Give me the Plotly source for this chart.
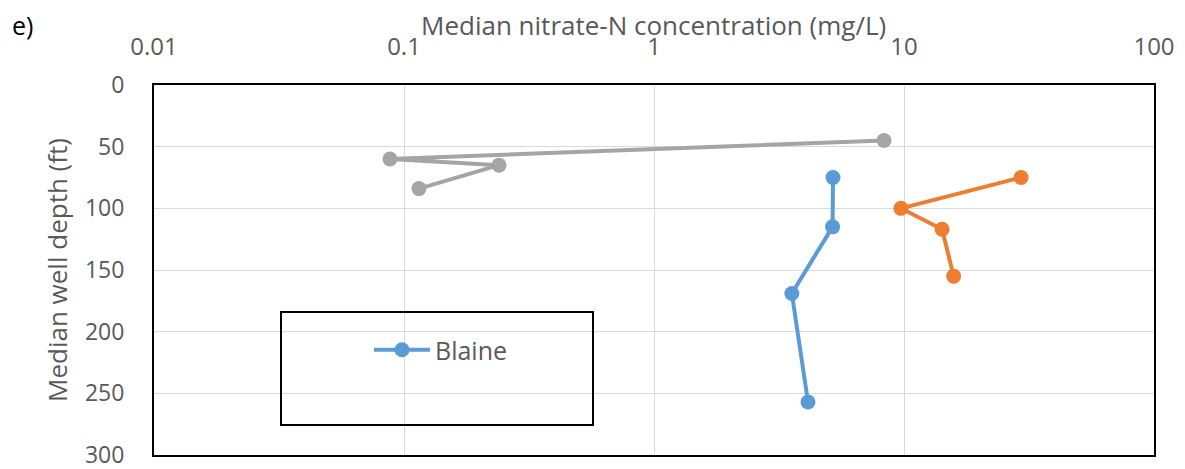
import plotly.graph_objects as go

# Data
blaine_nitrate = [5.2, 5.18, 3.56, 4.13]
blaine_depth = [75, 115, 169, 257]

orange_nitrate = [29.4, 9.72, 14.2, 15.8]
orange_depth = [75, 100, 117, 155]

gray_nitrate = [8.32, 0.0879, 0.24, 0.1148]
gray_depth = [45, 60, 65, 84]

x_tickvals = [0.01, 0.1, 1, 10, 100]
x_ticktext = ["0.01", "0.1", "1", "10", "100"]
y_tickvals = [0, 50, 100, 150, 200, 250, 300]

BLUE = "#5B9BD5"
ORANGE = "#ED7D31"
GRAY = "#A5A5A5"
TXT = "#595959"
FONT = "Open Sans"

fig = go.Figure()
fig.add_trace(go.Scatter(x=gray_nitrate, y=gray_depth, mode="lines+markers",
                         name="Series 3", showlegend=False,
                         line=dict(color=GRAY, width=4),
                         marker=dict(color=GRAY, size=15)))
fig.add_trace(go.Scatter(x=orange_nitrate, y=orange_depth, mode="lines+markers",
                         name="Series 2", showlegend=False,
                         line=dict(color=ORANGE, width=4),
                         marker=dict(color=ORANGE, size=15)))
fig.add_trace(go.Scatter(x=blaine_nitrate, y=blaine_depth, mode="lines+markers",
                         name="Blaine",
                         line=dict(color=BLUE, width=4),
                         marker=dict(color=BLUE, size=15)))

W, H = 1185, 469
L, R, T, B = 154, 31, 85, 14
pw, ph = W - L - R, H - T - B

def px(x):
    return (x - L) / pw

def py(y):
    return (H - B - y) / ph

fig.update_layout(
    width=W, height=H,
    margin=dict(l=L, r=R, t=T, b=B, autoexpand=False),
    paper_bgcolor="white", plot_bgcolor="white",
    font=dict(family=FONT, color=TXT, size=24),
    xaxis=dict(type="log", range=[-2, 2], side="top", automargin=False,
               tickvals=x_tickvals, ticktext=x_ticktext,
               showgrid=True, gridcolor="#D9D9D9", gridwidth=1.3,
               showline=True, linecolor="black", linewidth=2, mirror=True,
               ticks="", ticklabelstandoff=18, ticklabeloverflow="allow",
               tickfont=dict(size=24, color=TXT), zeroline=False),
    yaxis=dict(range=[300, 0], tickvals=y_tickvals, automargin=False,
               showgrid=True, gridcolor="#D9D9D9", gridwidth=1.3,
               showline=True, linecolor="black", linewidth=2, mirror=True,
               ticks="", ticklabelstandoff=23, ticklabeloverflow="allow",
               tickfont=dict(size=23, color=TXT), zeroline=False),
    showlegend=True,
    legend=dict(x=px(369), y=py(350), xanchor="left", yanchor="middle",
                bgcolor="rgba(0,0,0,0)", borderwidth=0,
                font=dict(size=25, color=TXT), itemwidth=56),
    shapes=[dict(type="rect", xref="paper", yref="paper",
                 x0=px(281), x1=px(593), y0=py(425), y1=py(312),
                 line=dict(color="black", width=2), fillcolor="rgba(0,0,0,0)",
                 layer="above")],
    annotations=[
        dict(text="Median nitrate-N concentration (mg/L)", xref="paper", yref="paper",
             x=px(653), y=py(25), xanchor="center", yanchor="middle",
             showarrow=False, font=dict(size=26, color=TXT)),
        dict(text="Median well depth (ft)", xref="paper", yref="paper",
             x=px(57), y=py(270), xanchor="center", yanchor="middle", textangle=-90,
             showarrow=False, font=dict(size=26, color=TXT)),
        dict(text="e)", xref="paper", yref="paper",
             x=px(10), y=py(25), xanchor="left", yanchor="middle",
             showarrow=False, font=dict(size=25, color="black")),
    ],
)

fig.write_html("out.html", config={"displayModeBar": False},
               post_script="document.body.style.margin='0px';")
